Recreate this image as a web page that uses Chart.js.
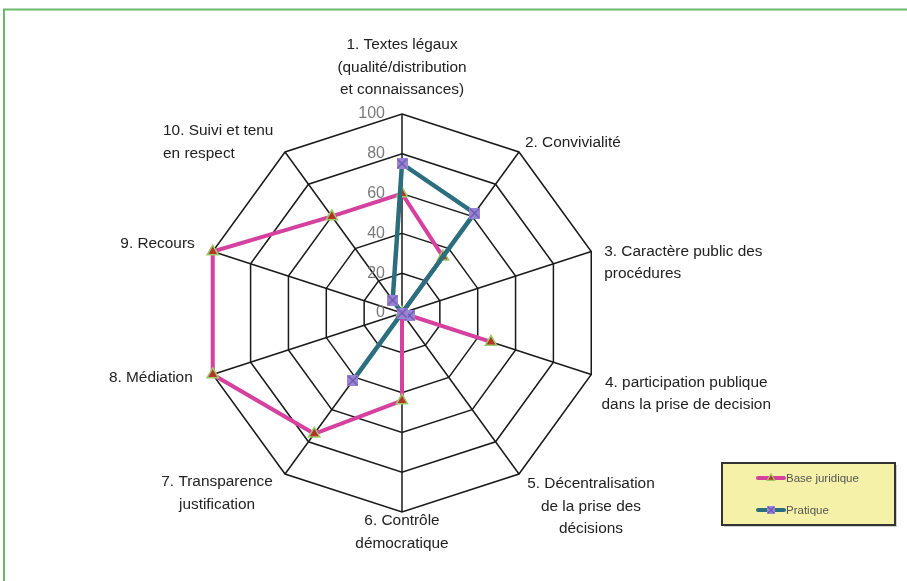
<!DOCTYPE html>
<html>
<head>
<meta charset="utf-8">
<script src="https://cdn.jsdelivr.net/npm/chart.js@4.4.1/dist/chart.umd.min.js"></script>
<style>
  html, body { margin: 0; padding: 0; background: #fff; }
  #radar { display: block; }
</style>
</head>
<body>
<canvas id="radar" width="907" height="581"></canvas>
<script>
// axis names, in clockwise order starting at the top
const axisLabels = [
  ['1. Textes légaux', '(qualité/distribution', 'et connaissances)'],
  ['2. Convivialité'],
  ['3. Caractère public des', 'procédures'],
  ['4. participation publique', 'dans la prise de decision'],
  ['5. Décentralisation', 'de la prise des', 'décisions'],
  ['6. Contrôle', 'démocratique'],
  ['7. Transparence', 'justification'],
  ['8. Médiation'],
  ['9. Recours'],
  ['10. Suivi et tenu', 'en respect']
];
const seriesNames = ['Base juridique', 'Pratique'];
const baseJuridique = [60, 35, 0, 47, 0, 44, 75, 100, 100, 60];
const pratique = [75, 62, 0, 4, 0, 0, 42, 0, 0, 8];
const tickValues = [0, 20, 40, 60, 80, 100];

const pink = '#d6409f';
const teal = '#2b6e7e';
const labelFont = '15.4px "Liberation Sans Narrow", "Arial Narrow", "Liberation Sans", sans-serif';

// where each axis title sits relative to the end of its spoke
const labelPlacement = [
  { align: 'center', dx: 0, dy: -69 },
  { align: 'left', dx: 6, dy: -9 },
  { align: 'left', dx: 13, dy: 0 },
  { align: 'center', dx: 95, dy: 8 },
  { align: 'center', dx: 72, dy: 10 },
  { align: 'center', dx: 0, dy: 9 },
  { align: 'center', dx: -68, dy: 8 },
  { align: 'right', dx: -20, dy: 3 },
  { align: 'right', dx: -18, dy: -8 },
  { align: 'left', dx: -122, dy: -21 }
];

function xSquare(size, fill, stroke) {
  const c = document.createElement('canvas');
  c.width = c.height = size;
  const g = c.getContext('2d');
  g.fillStyle = fill;
  g.fillRect(0, 0, size, size);
  g.strokeStyle = stroke;
  g.lineWidth = 1.2;
  g.beginPath();
  g.moveTo(1, 1); g.lineTo(size - 1, size - 1);
  g.moveTo(size - 1, 1); g.lineTo(1, size - 1);
  g.stroke();
  return c;
}

function triangle(ctx, x, y, r, fill, stroke, bw) {
  ctx.beginPath();
  ctx.moveTo(x, y - r);
  ctx.lineTo(x + r * 0.95, y + r * 0.6);
  ctx.lineTo(x - r * 0.95, y + r * 0.6);
  ctx.closePath();
  ctx.fillStyle = fill;
  ctx.fill();
  ctx.lineWidth = bw;
  ctx.strokeStyle = stroke;
  ctx.stroke();
}

const purpleMark = xSquare(11, '#9a84d4', '#6a55ad');
const purpleMarkSmall = xSquare(8, '#9a84d4', '#6a55ad');

const radarDecor = {
  id: 'radarDecor',
  beforeDraw(chart) {
    const ctx = chart.ctx;
    ctx.save();
    ctx.strokeStyle = '#6cb86c';
    ctx.lineWidth = 2;
    ctx.beginPath();
    ctx.moveTo(4, chart.height);
    ctx.lineTo(4, 9.5);
    ctx.lineTo(chart.width, 9.5);
    ctx.stroke();
    ctx.restore();
  },
  beforeDatasetsDraw(chart) {
    const r = chart.scales.r;
    const ctx = chart.ctx;
    ctx.save();
    ctx.font = '16px "Liberation Sans Narrow", "Arial Narrow", sans-serif';
    ctx.fillStyle = '#7a7a7a';
    ctx.textAlign = 'right';
    ctx.textBaseline = 'middle';
    r.ticks.forEach(t => {
      const d = r.getDistanceFromCenterForValue(t.value);
      ctx.fillText(String(t.value), r.xCenter - 17, r.yCenter - d);
    });
    ctx.restore();
  },
  afterDraw(chart) {
    const r = chart.scales.r;
    const ctx = chart.ctx;
    ctx.save();
    ctx.font = labelFont;
    ctx.fillStyle = '#222';
    ctx.textBaseline = 'middle';
    axisLabels.forEach((lines, i) => {
      const p = r.getPointPosition(i, r.drawingArea);
      const pl = labelPlacement[i];
      ctx.textAlign = pl.align;
      lines.forEach((txt, k) => {
        ctx.fillText(txt, p.x + pl.dx, p.y + pl.dy + k * 22.5);
      });
    });

    // legend box
    const bx = 722, by = 463, bw = 173, bh = 62;
    ctx.fillStyle = 'rgba(0,0,0,0.18)';
    ctx.fillRect(bx + 2, by + 2, bw, bh);
    ctx.fillStyle = '#f6f1a8';
    ctx.fillRect(bx, by, bw, bh);
    ctx.strokeStyle = '#333';
    ctx.lineWidth = 2;
    ctx.strokeRect(bx, by, bw, bh);

    const ds = chart.data.datasets;
    const rows = [by + 15, by + 47];
    ctx.font = '11.5px "Liberation Sans", Arial, sans-serif';
    ctx.textAlign = 'left';
    ds.forEach((d, i) => {
      const y = rows[i];
      ctx.strokeStyle = d.borderColor;
      ctx.lineWidth = 4;
      ctx.lineCap = 'round';
      ctx.beginPath();
      ctx.moveTo(bx + 36, y);
      ctx.lineTo(bx + 62, y);
      ctx.stroke();
      if (i === 0) {
        triangle(ctx, bx + 49, y, 4, '#b3362b', '#9ccc65', 1.2);
      } else {
        ctx.drawImage(purpleMarkSmall, bx + 45, y - 4);
      }
      ctx.fillStyle = '#555';
      ctx.fillText(d.label, bx + 64, y + 1);
    });
    ctx.restore();
  }
};

const ctx = document.getElementById('radar').getContext('2d');
const chart = new Chart(ctx, {
  type: 'radar',
  data: {
    labels: axisLabels,
    datasets: [
      {
        label: seriesNames[0],
        data: baseJuridique,
        borderColor: pink,
        borderWidth: 4,
        fill: false,
        order: 1,
        pointStyle: 'triangle',
        pointRadius: 6.5,
        pointBackgroundColor: '#b3362b',
        pointBorderColor: '#9ccc65',
        pointBorderWidth: 1.5
      },
      {
        label: seriesNames[1],
        data: pratique,
        borderColor: teal,
        borderWidth: 4.5,
        fill: false,
        order: 0,
        pointStyle: purpleMark,
        pointRadius: 5
      }
    ]
  },
  options: {
    responsive: false,
    animation: false,
    events: [],
    layout: { padding: { left: 0, right: 103, top: 114, bottom: 69 } },
    elements: { line: { tension: 0 } },
    scales: {
      r: {
        min: tickValues[0],
        max: tickValues[tickValues.length - 1],
        ticks: { display: false, stepSize: 20 },
        afterBuildTicks: s => { s.ticks = tickValues.map(v => ({ value: v })); },
        grid: { color: '#1a1a1a', lineWidth: 1.5 },
        angleLines: { color: '#1a1a1a', lineWidth: 1.5 },
        pointLabels: { display: false }
      }
    },
    plugins: {
      legend: { display: false },
      tooltip: { enabled: false }
    }
  },
  plugins: [radarDecor]
});
</script>
</body>
</html>
